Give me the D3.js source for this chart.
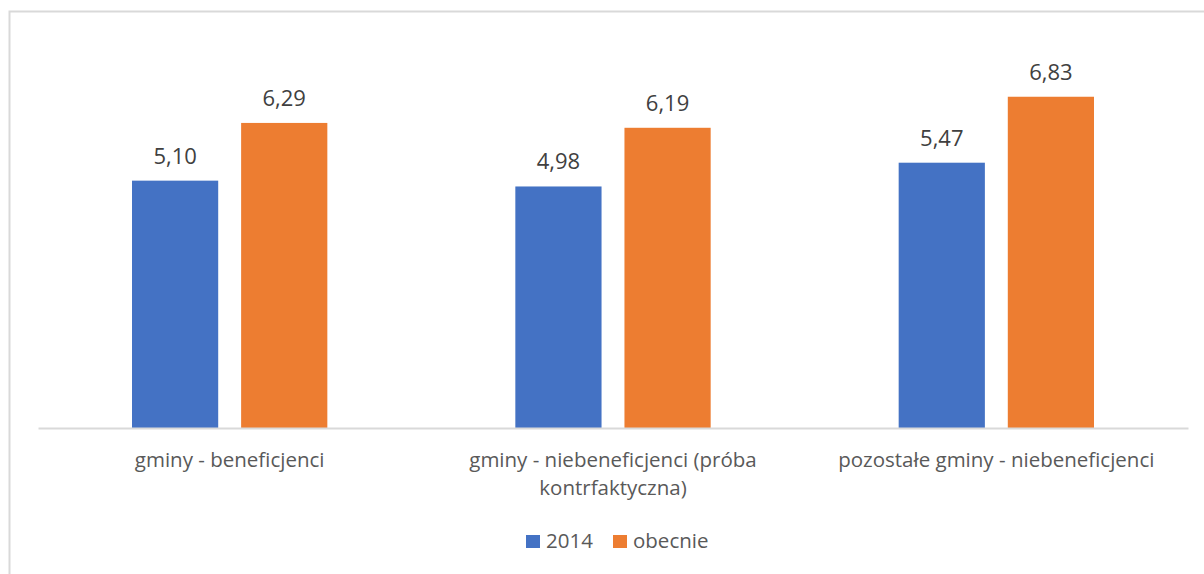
<!DOCTYPE html>
<html>
<head>
<meta charset="utf-8">
<script src="https://cdn.jsdelivr.net/npm/d3@7"></script>
<style>
  body { margin: 0; background: #fff; }
  svg { display: block; }
</style>
</head>
<body>
<div id="chart"></div>
<script>
// dane z wykresu
const categories = [
  ["gminy - beneficjenci"],
  ["gminy - niebeneficjenci (próba", "kontrfaktyczna)"],
  ["pozostałe gminy - niebeneficjenci"]
];
const seriesNames = ["2014", "obecnie"];
const values2014 = [5.10, 4.98, 5.47];
const valuesNow = [6.29, 6.19, 6.83];

const colors = ["#4472C4", "#ED7D31"];
const W = 1204, H = 574;
const plot = {left: 38, right: 1188, top: 40, bottom: 428};
const font = "'Open Sans', 'Noto Sans', sans-serif";

const svg = d3.select("#chart").append("svg")
  .attr("width", W)
  .attr("height", H);

// ramka wykresu
svg.append("rect")
  .attr("x", 9.5).attr("y", 11.5)
  .attr("width", W + 20).attr("height", H + 20)
  .attr("fill", "none")
  .attr("stroke", "#D9D9D9")
  .attr("stroke-width", 2);

const x = d3.scaleBand()
  .domain(d3.range(categories.length))
  .range([plot.left, plot.right]);

const inner = d3.scaleBand()
  .domain(d3.range(seriesNames.length))
  .range([94, x.bandwidth() - 94])
  .paddingInner(0.21);

const y = d3.scaleLinear()
  .domain([0, 8])
  .range([plot.bottom, plot.top]);

const series = [values2014, valuesNow];
const rows = [];
series.forEach((vals, s) => vals.forEach((v, i) => rows.push({s, i, v})));

const g = svg.append("g");

g.selectAll(".bar")
  .data(rows)
  .join("rect")
  .attr("class", "bar")
  .attr("x", d => x(d.i) + inner(d.s))
  .attr("y", d => y(d.v))
  .attr("width", inner.bandwidth())
  .attr("height", d => y(0) - y(d.v))
  .attr("fill", d => colors[d.s]);

g.selectAll(".val")
  .data(rows)
  .join("text")
  .attr("class", "val")
  .attr("x", d => x(d.i) + inner(d.s) + inner.bandwidth() / 2)
  .attr("y", d => y(d.v) - 17)
  .attr("text-anchor", "middle")
  .attr("font-family", font)
  .attr("font-size", 22)
  .attr("fill", "#404040")
  .text(d => d3.format(".2f")(d.v).replace(".", ","));

// oś x
const xAxis = d3.axisBottom(x).tickSize(0).tickFormat("");
const axG = svg.append("g")
  .attr("transform", `translate(0,${plot.bottom})`)
  .call(xAxis);
axG.select(".domain").attr("stroke", "#D9D9D9").attr("stroke-width", 2);

const labels = svg.append("g").selectAll("text")
  .data(categories)
  .join("text")
  .attr("x", (d, i) => x(i) + x.bandwidth() / 2)
  .attr("y", 467)
  .attr("text-anchor", "middle")
  .attr("font-family", font)
  .attr("font-size", 20.5)
  .attr("fill", "#595959");
labels.selectAll("tspan")
  .data(d => d)
  .join("tspan")
  .attr("x", function () { return this.parentNode.getAttribute("x"); })
  .attr("dy", (d, j) => j === 0 ? 0 : 28)
  .text(d => d);

// legenda
const legendX = [526, 613];
const leg = svg.append("g").selectAll("g")
  .data(seriesNames)
  .join("g")
  .attr("transform", (d, i) => `translate(${legendX[i]},535)`);
leg.append("rect")
  .attr("width", 14).attr("height", 13)
  .attr("fill", (d, i) => colors[i]);
leg.append("text")
  .attr("x", 20).attr("y", 13)
  .attr("font-family", font)
  .attr("font-size", 20.5)
  .attr("fill", "#595959")
  .text(d => d);
</script>
</body>
</html>
